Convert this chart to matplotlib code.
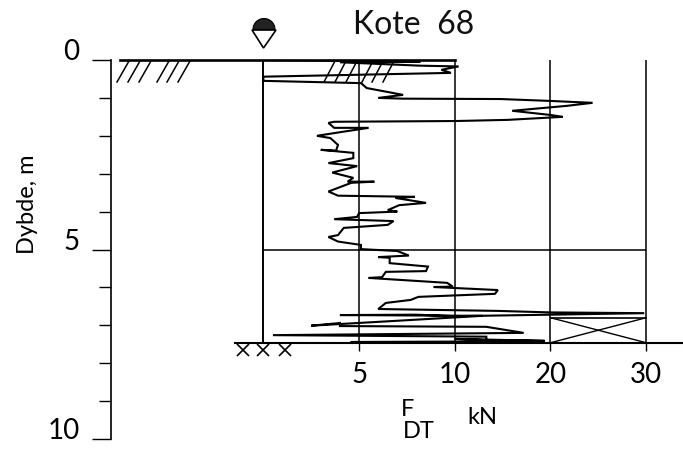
import numpy as np
import matplotlib
matplotlib.use("Agg")
import matplotlib.pyplot as plt
from matplotlib.patches import Wedge, Polygon

plt.rcParams['font.family'] = ['Lato', 'DejaVu Sans']

# sounding trace
force = [0, 8.2, 4.0, 8.2, 10.4, 9.3, 9.8, 0, 0, 5.1, 5.4, 7.3, 6.0, 7.3, 14.8, 20.0, 24.4, 21.7, 16.0, 20.0, 21.3,
         15.5, 10.1, 3.7, 3.4, 3.7, 5.5, 4.2, 2.8, 3.5, 3.9, 3.8, 3.0, 4.7, 4.7, 3.4, 4.9, 3.6, 4.7, 4.4, 5.8,
         4.6, 3.4, 3.9, 7.9, 6.9, 8.5, 7.1, 6.5, 7.0, 5.0, 4.9, 3.7, 6.8, 6.5, 4.2, 3.9, 3.4, 3.9, 5.1, 5.1,
         7.0, 7.6, 6.0, 6.6, 6.6, 8.6, 8.5, 6.4, 6.2, 5.5, 9.6, 9.9, 8.9, 14.5, 14.2, 8.1, 7.7, 6.4, 6.0, 14.5,
         20.0, 29.8, 20.0, 10.0, 8.0, 4.0, 12.9, 7.7, 2.5, 4.0, 4.0, 13.3, 17.2, 0.5, 13.3, 13.3, 19.4, 10.0, 19.4, 9.9, 4.6]
depth = [0, 0.05, 0.06, 0.15, 0.17, 0.26, 0.34, 0.44, 0.55, 0.61, 0.74, 0.92, 1.0, 1.02, 1.03, 1.08, 1.13, 1.21, 1.34, 1.45, 1.50,
         1.58, 1.61, 1.63, 1.66, 1.79, 1.79, 1.89, 2.0, 2.06, 2.24, 2.39, 2.37, 2.45, 2.59, 2.72, 2.80, 2.97, 3.11, 3.21, 3.21,
         3.24, 3.47, 3.58, 3.61, 3.64, 3.77, 3.83, 3.96, 4.0, 4.04, 4.14, 4.20, 4.25, 4.35, 4.43, 4.62, 4.67, 4.79, 4.88, 4.99,
         5.04, 5.16, 5.20, 5.22, 5.36, 5.45, 5.57, 5.59, 5.73, 5.75, 5.88, 5.98, 5.99, 6.07, 6.17, 6.25, 6.33, 6.41, 6.57, 6.62,
         6.66, 6.68, 6.72, 6.76, 6.72, 6.73, 6.75, 6.86, 7.01, 6.94, 7.02, 7.04, 7.20, 7.26, 7.30, 7.39, 7.41, 7.36, 7.44, 7.43, 7.44]

x_ticks = [5, 10, 20, 30]
y_major = [0, 5, 10]
y_minor = [1, 2, 3, 4, 6, 7, 8, 9]
end_depth = 7.46
box_top = 6.8


# force axis: 0-10 is twice as wide per kN as 10-30
def forward(x):
    x = np.asarray(x, dtype=float)
    return np.where(x <= 10, x, 10 + (x - 10) / 2)


def inverse(x):
    x = np.asarray(x, dtype=float)
    return np.where(x <= 10, x, 10 + (x - 10) * 2)


fig = plt.figure(figsize=(6.83, 4.5), dpi=100)
ax = fig.add_axes([111 / 683, 11 / 450, 572 / 683, 379 / 450])
ax.patch.set_alpha(0)
ax.set_xscale('function', functions=(forward, inverse))
ax.set_xlim(-7.96, 33.85)
ax.set_ylim(10, 0)

for s in ['top', 'right']:
    ax.spines[s].set_visible(False)
ax.spines['left'].set_linewidth(1.2)
ax.spines['bottom'].set_position(('data', end_depth))
ax.spines['bottom'].set_bounds(-1.47, 33.85)
ax.spines['bottom'].set_linewidth(1.5)

ax.set_yticks(y_major)
ax.set_yticks(y_minor, minor=True)
ax.set_yticklabels([str(v) for v in y_major], fontsize=20, va='baseline')
ax.tick_params(axis='y', which='major', length=13.5, width=1, pad=9)
ax.tick_params(axis='y', which='minor', length=9, width=1)
ax.set_xticks(x_ticks)
ax.set_xticks([], minor=True)
ax.set_xticklabels([str(v) for v in x_ticks], fontsize=20)
ax.tick_params(axis='x', length=6, width=1, pad=8)

# frame of the sounding
ax.vlines(x_ticks, 0, end_depth, color='k', lw=1.1)
ax.vlines(0, 0, end_depth, color='k', lw=1.4)
ax.hlines(5, 0, 30, color='k', lw=1.1)
ax.plot([-7.5, 10], [0, 0], color='k', lw=1.9, clip_on=False)

# refusal box
ax.hlines(box_top, 20, 30, color='k', lw=1.2)
ax.plot([20, 30], [box_top, end_depth], color='k', lw=1)
ax.plot([20, 30], [end_depth, box_top], color='k', lw=1)

ax.plot(force, depth, color='k', lw=1.5, solid_joinstyle='miter')

# drawn symbols, in picture coordinates
over = fig.add_axes([0, 0, 1, 1])
over.set_xlim(0, 683)
over.set_ylim(450, 0)
over.axis('off')

hatch_ground = [117, 128, 139, 157, 167, 178]
hatch_trace = [324, 335, 346, 362, 372, 383]
for xb in hatch_ground:
    over.plot([xb, xb + 12], [82, 61], color='k', lw=1.1)
for xb in hatch_trace:
    over.plot([xb, xb + 11], [82, 61], color='k', lw=1.1)

over.plot([243, 263, 285], [350, 350, 350], ls='none', marker='x', ms=8.5, mew=1.2, color='k')

over.add_patch(Wedge((264, 29.5), 11, 180, 360, fc='#222222', ec='k', lw=0.8))
over.add_patch(Polygon([(252, 30), (276, 30), (263.5, 48)], closed=True, fc='white', ec='k', lw=1.2))

over.text(414, 25, 'Kote  68', fontsize=23, ha='center', va='center', color='#111111')
over.text(27, 204, 'Dybde, m', rotation=90, fontsize=17, ha='center', va='center')
over.text(408, 410, 'F', fontsize=17, ha='center', va='center')
over.text(419, 431, 'DT', fontsize=17, ha='center', va='center')
over.text(482, 417, 'kN', fontsize=17, ha='center', va='center')

fig.savefig('out.png', dpi=100)
